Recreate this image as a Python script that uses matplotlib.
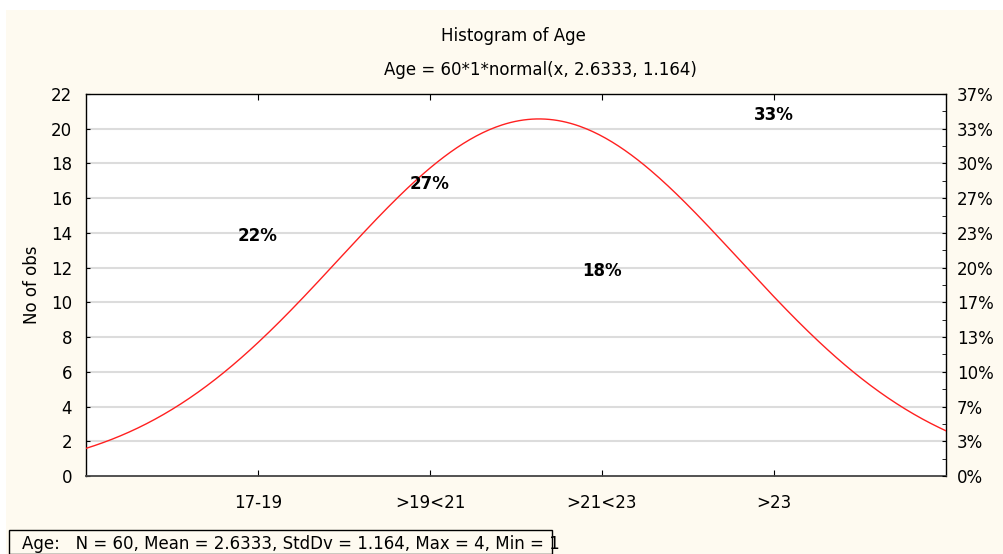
import numpy as np
import matplotlib
matplotlib.use("Agg")
import matplotlib.pyplot as plt
from matplotlib.patches import Rectangle
from matplotlib.ticker import MultipleLocator

categories = ["17-19", ">19<21", ">21<23", ">23"]
counts = [13, 16, 11, 20]
n_total = 60
mean_val = 2.6333
std_val = 1.164
y_ticks = list(range(0, 23, 2))
title = "Histogram of Age"
subtitle = "Age = 60*1*normal(x, 2.6333, 1.164)"
stats_text = "Age:   N = 60, Mean = 2.6333, StdDv = 1.164, Max = 4, Min = 1"

W, H = 1004, 554
plt.rcParams['font.family'] = ['DejaVu Sans']
FS = 12
fig = plt.figure(figsize=(W / 100, H / 100), dpi=100, facecolor='white')

cream = '#FEFAF0'
fig.patches.append(Rectangle((6 / W, 0), 1 - 6 / W, (H - 10) / H, transform=fig.transFigure,
                             facecolor=cream, edgecolor='none', zorder=-10))

ax = fig.add_axes([86 / W, (H - 476) / H, 860 / W, 382 / H])
ax.set_facecolor('white')
ax.set_xlim(0, len(categories) + 1)
ax.set_ylim(0, 22)

xpos = np.arange(1, len(categories) + 1)
ax.set_xticks(xpos)
ax.set_xticklabels(categories, fontsize=FS)
ax.set_yticks(y_ticks)
ax.set_yticklabels([str(v) for v in y_ticks], fontsize=FS)
ax.tick_params(axis='x', direction='in', length=4, top=True, pad=13, color='black')
ax.tick_params(axis='y', direction='in', length=3, pad=10)

for v in y_ticks[1:-1]:
    ax.axhline(v, color='#DCDCDC', lw=1.5, zorder=0.5)

# normal curve
xs = np.linspace(0, len(categories) + 1, 400)
ys = n_total * 1 * np.exp(-0.5 * ((xs - mean_val) / std_val) ** 2) / (std_val * np.sqrt(2 * np.pi))
ax.plot(xs, ys, color='#FF2020', lw=1.0, zorder=3)

# percentage labels above (invisible) bars
for x, c in zip(xpos, counts):
    pct = round(100 * c / n_total)
    ax.text(x, c + 0.8, f"{pct}%", ha='center', va='center', fontsize=FS, fontweight='bold', zorder=4)

for s in ax.spines.values():
    s.set_color('black')
    s.set_linewidth(1.0)
ax.spines['bottom'].set_color('#444444')
ax.spines['bottom'].set_linewidth(1.3)

ax.set_ylabel("No of obs", fontsize=FS, labelpad=7)

ax2 = ax.twinx()
ax2.set_ylim(0, 22)
ax2.set_yticks(y_ticks)
ax2.set_yticklabels([f"{round(100 * v / n_total)}%" for v in y_ticks], fontsize=FS)
ax2.yaxis.set_minor_locator(MultipleLocator(1))
ax2.tick_params(axis='y', which='both', direction='in', length=3, pad=8)
for s in ax2.spines.values():
    s.set_visible(False)

fig.text(513 / W, 1 - 36 / H, title, ha='center', va='center', fontsize=FS)
fig.text(540 / W, 1 - 70 / H, subtitle, ha='center', va='center', fontsize=FS)

fig.patches.append(Rectangle((9 / W, 0), (552 - 9) / W, (H - 530) / H, transform=fig.transFigure,
                             facecolor='none', edgecolor='black', lw=1.0, zorder=1))
fig.text(22 / W, 1 - 544 / H, stats_text, ha='left', va='center', fontsize=FS, zorder=2)

fig.savefig("out.png", dpi=100, facecolor='white')
